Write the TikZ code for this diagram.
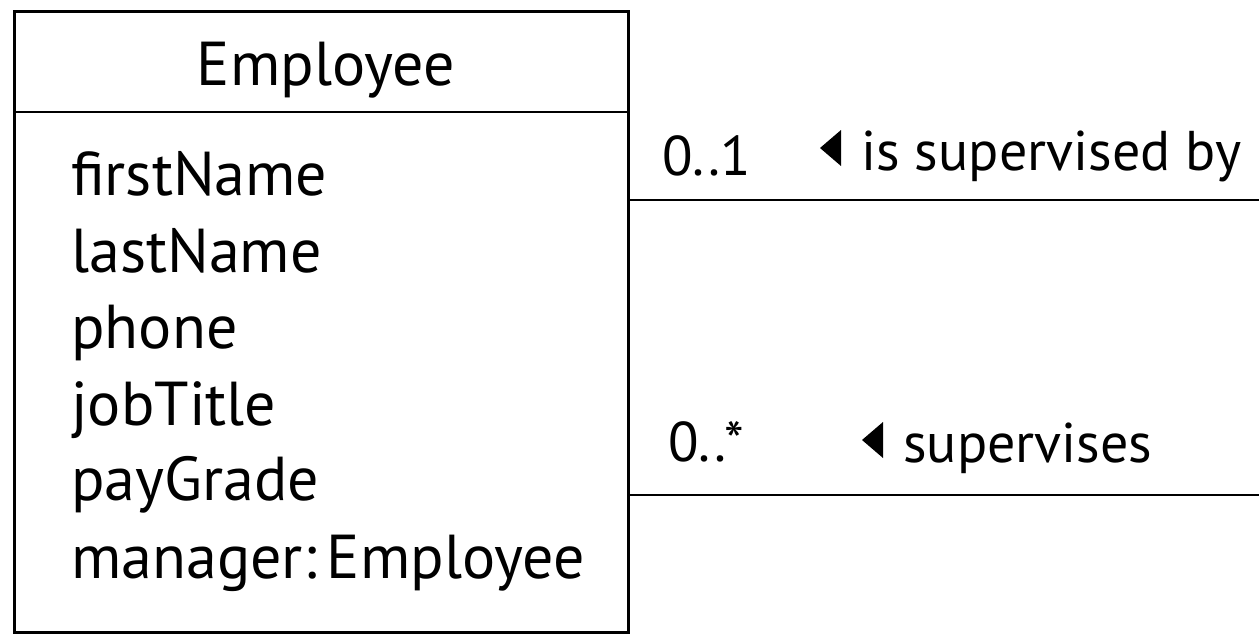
\documentclass[tikz,border=0pt]{standalone}
\usepackage{fontspec}
\setmainfont{PT Sans}
\usetikzlibrary{positioning}

\begin{document}
\begin{tikzpicture}[x=1pt,y=-1pt,line width=2.8pt]
 % styles
 \tikzstyle{classbox} = [draw=black,rectangle,inner sep=0pt,minimum width=614pt,minimum height=621pt,anchor=north west];
 \tikzstyle{txt} = [inner sep=0pt,font=\fontsize{62}{66}\selectfont];
 \tikzstyle{attr} = [txt,anchor=base west];
 \tikzstyle{assoc} = [inner sep=0pt,anchor=base west,font=\fontsize{56}{60}\selectfont];

 \useasboundingbox (0,0) rectangle (1259,634);

 % class box
 \node[classbox] (emp) at (13,10) {};
 \coordinate (headL) at (13,112);
 \coordinate (headR) at (627,112);
 \draw (headL) -- (headR);
 \node[txt,anchor=base] (title) at (326,85) {Employee};

 % attributes
 \node[attr] (a1) at (70,195) {firstName};
 \node[attr] (a2) at (70,272) {lastName};
 \node[attr] (a3) at (70,348) {phone};
 \node[attr] (a4) at (70,425) {jobTitle};
 \node[attr] (a5) at (70,500) {payGrade};
 \node[attr] (a6) at (70,578) {manager:\,Employee};

 % associations
 \coordinate (supEnd) at (1262,200);
 \coordinate (subEnd) at (1262,495);
 \draw (emp.east |- supEnd) -- (supEnd);
 \draw (emp.east |- subEnd) -- (subEnd);

 \node[assoc] (m1) at (661,175) {0..1};
 \node[assoc] (n1) at (860,170) {is supervised by};
 \node[assoc] (m2) at (667,461) {0..*};
 \node[assoc] (n2) at (902,462) {supervises};

 % reading direction
 \fill ([xshift=-40pt,yshift=22pt]n1.base west) -- ++(21,-18) -- ++(0,36) -- cycle;
 \fill ([xshift=-40pt,yshift=22pt]n2.base west) -- ++(21,-18) -- ++(0,36) -- cycle;
\end{tikzpicture}
\end{document}
